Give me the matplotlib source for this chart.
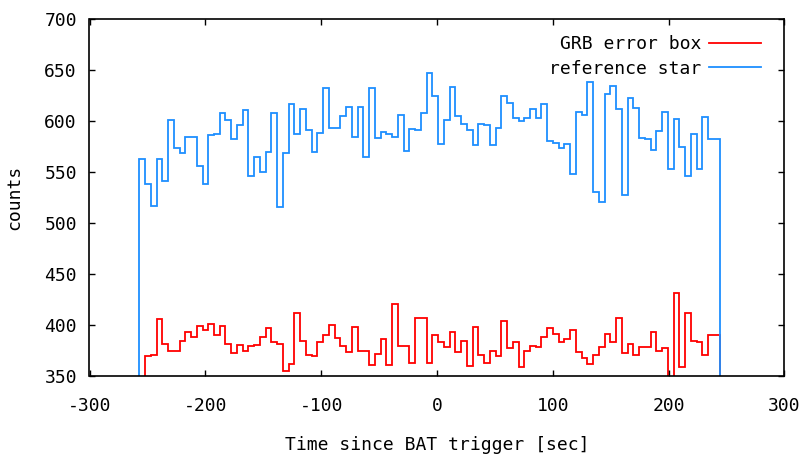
import matplotlib
matplotlib.use('Agg')
import matplotlib.pyplot as plt
import numpy as np

plt.rcParams['axes.unicode_minus'] = False

# bin layout (seconds since trigger)
t_start = -257.0
bin_width = 4.96

ref_star = [563, 538, 517, 563, 541, 601, 574, 569, 584, 584,
            556, 538, 586, 587, 608, 601, 582, 596, 611, 546,
            565, 550, 570, 608, 516, 569, 617, 587, 612, 591,
            570, 588, 632, 593, 593, 605, 614, 584, 614, 565,
            632, 583, 589, 587, 584, 606, 571, 592, 591, 608,
            647, 625, 577, 601, 633, 605, 597, 591, 576, 597,
            596, 576, 593, 625, 618, 603, 600, 603, 612, 603,
            617, 580, 578, 574, 577, 548, 609, 606, 638, 530,
            521, 626, 634, 612, 527, 623, 613, 583, 582, 572,
            590, 609, 553, 602, 575, 546, 587, 553, 604, 582,
            582]

grb_box = [330, 370, 371, 406, 381, 375, 375, 384, 393, 388,
           399, 395, 401, 390, 399, 381, 373, 380, 375, 379,
           380, 388, 397, 383, 381, 355, 362, 412, 384, 371,
           370, 383, 390, 400, 387, 379, 374, 398, 375, 375,
           361, 372, 386, 361, 421, 379, 379, 363, 407, 407,
           363, 390, 383, 378, 393, 374, 384, 360, 398, 371,
           363, 375, 370, 404, 377, 383, 359, 375, 379, 378,
           388, 397, 391, 383, 386, 395, 374, 368, 362, 371,
           378, 391, 383, 407, 373, 381, 371, 378, 378, 393,
           375, 377, 330, 431, 359, 412, 384, 383, 371, 390,
           390]

edges = t_start + bin_width * np.arange(len(ref_star) + 1)

mono = 'DejaVu Sans Mono'

fig = plt.figure(figsize=(8.03, 4.58), dpi=100)
ax = fig.add_axes([89.5 / 803, 1 - 376 / 458, 695 / 803, 357 / 458])

ax.stairs(grb_box, edges, baseline=0, color='#ff0000', linewidth=1.3, label='GRB error box')
ax.stairs(ref_star, edges, baseline=0, color='#1e8fff', linewidth=1.3, label='reference star')

ax.set_xlim(-300, 300)
ax.set_ylim(350, 700)
ax.set_xticks(np.arange(-300, 301, 100))
ax.set_yticks(np.arange(350, 701, 50))

ax.tick_params(direction='in', length=4, width=1, top=True, right=True, labelsize=13)
ax.tick_params(axis='x', pad=15)
ax.tick_params(axis='y', pad=9)
for lab in ax.get_xticklabels() + ax.get_yticklabels():
    lab.set_family(mono)
for s in ax.spines.values():
    s.set_linewidth(1.2)

ax.set_xlabel('Time since BAT trigger [sec]', family=mono, size=13, labelpad=15)
ax.set_ylabel('counts', family=mono, size=13, labelpad=15)

ax.legend(loc='upper right', bbox_to_anchor=(0.99, 1.0), frameon=False, markerfirst=False,
          handlelength=2.9, handletextpad=0.4, labelspacing=0.35,
          prop={'family': mono, 'size': 13})

fig.savefig('out.png', dpi=100)
